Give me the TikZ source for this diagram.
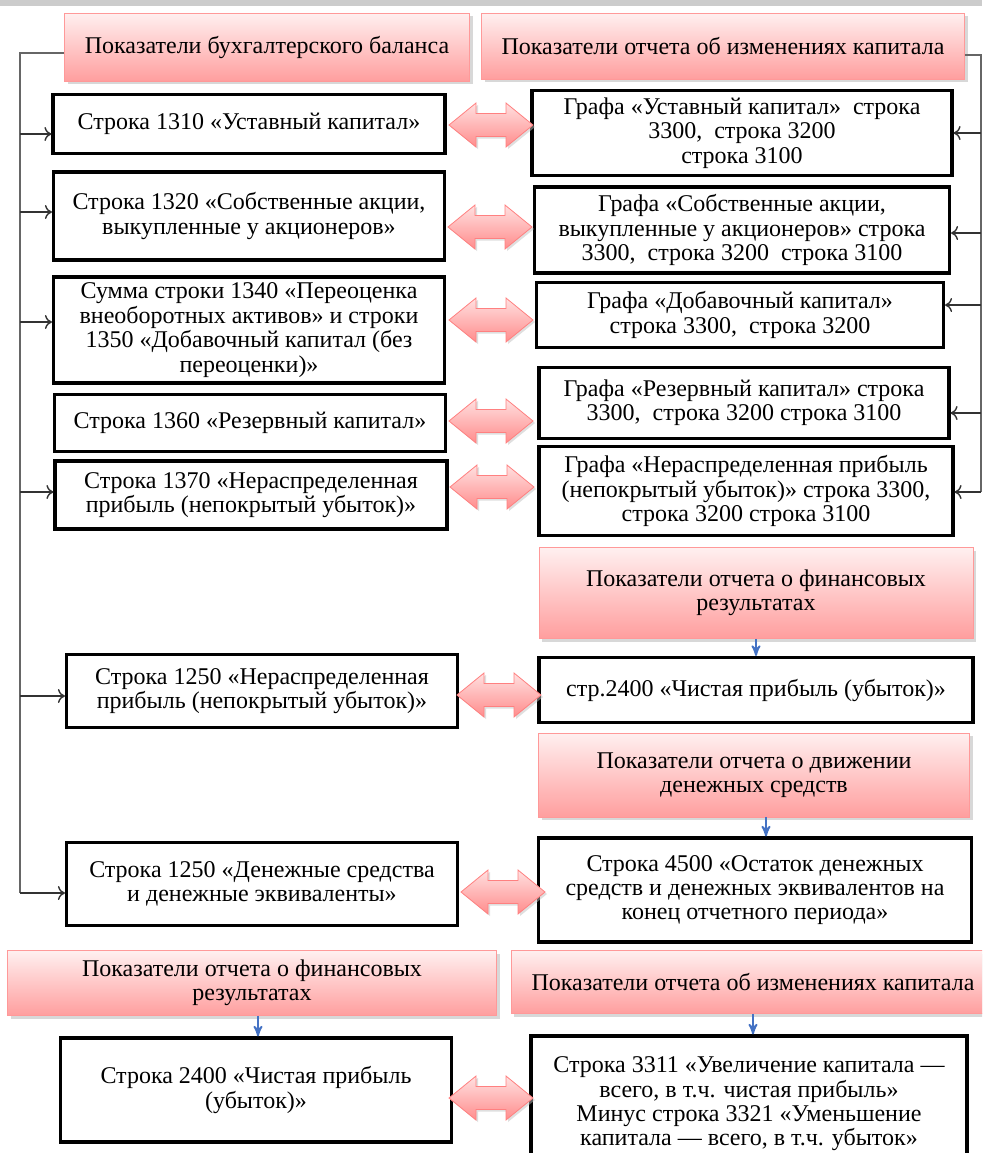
\documentclass[tikz,border=0pt]{standalone}
\usepackage{fontspec}
\setmainfont{Liberation Serif}
\usepackage{tikz}
\usetikzlibrary{shadows}
\usetikzlibrary{arrows}
\usetikzlibrary{arrows.meta}
\definecolor{linkblue}{RGB}{68,114,196}

\tikzset{link/.pic={
	\path[draw=red!50,top color=red!12,bottom color=red!45,
		drop shadow={shadow xshift=1pt,shadow yshift=-1pt,fill=black!25}]
		(-42,0) -- (-15,-22) -- (-15,-11.5) -- (15,-11.5) -- (15,-22) -- (42,0)
		-- (15,22) -- (15,11.5) -- (-15,11.5) -- (-15,22) -- cycle;
}}

\begin{document}
\begin{tikzpicture}[x=0.5pt,y=-0.5pt,>={To[length=3.5pt,width=7pt]},
	every node/.style={font=\fontsize{12}{12.2}\selectfont},
	main node/.style={rectangle,draw,line width=1.6pt,fill=white,align=center,inner sep=1pt},
	pink node/.style={rectangle,draw=red!40,top color=red!6,bottom color=red!38,
		drop shadow={shadow xshift=1.5pt,shadow yshift=-1.5pt,fill=black!30},
		align=center,inner sep=1pt},
	feed/.style={->,line width=0.7pt,black!80},
	down/.style={-stealth',line width=0.9pt,linkblue}]

	\useasboundingbox (0,0) rectangle (982,1153);
	\clip (0,0) rectangle (982,1153);
	\fill[black!20] (0,0) rectangle (982,6);

	% headers
	\node[pink node,minimum width=202.5pt,minimum height=34pt] (h1) at (267,47) {Показатели бухгалтерского баланса};
	\node[pink node,minimum width=241.5pt,minimum height=33pt] (h2) at (723,46) {Показатели отчета об изменениях капитала};

	% balance sheet
	\node[main node,minimum width=196pt,minimum height=29.5pt] (l1) at (249,124) {Строка 1310 «Уставный капитал»};
	\node[main node,minimum width=195.5pt,minimum height=44pt] (l2) at (249,216) {Строка 1320 «Собственные акции,\\выкупленные у акционеров»};
	\node[main node,minimum width=195.5pt,minimum height=53pt] (l3) at (249,330) {Сумма строки 1340 «Переоценка\\внеоборотных активов» и строки\\1350 «Добавочный капитал (без\\переоценки)»};
	\node[main node,minimum width=195.5pt,minimum height=28.5pt] (l4) at (250,423) {Строка 1360 «Резервный капитал»};
	\node[main node,minimum width=196pt,minimum height=34pt] (l5) at (251,495) {Строка 1370 «Нераспределенная\\прибыль (непокрытый убыток)»};
	\node[main node,minimum width=195.5pt,minimum height=36.5pt] (l6) at (262,691) {Строка 1250 «Нераспределенная\\прибыль (непокрытый убыток)»};
	\node[main node,minimum width=195.5pt,minimum height=41.5pt] (l7) at (262,884) {Строка 1250 «Денежные средства\\и денежные эквиваленты»};

	% changes in equity
	\node[main node,minimum width=210pt,minimum height=42.5pt] (r1) at (742,133) {Графа «Уставный капитал»\ \ строка\\3300,\ \ строка 3200\\строка 3100};
	\node[main node,minimum width=207.5pt,minimum height=43pt] (r2) at (742,230) {Графа «Собственные акции,\\выкупленные у акционеров» строка\\3300,\ \ строка 3200\ \ строка 3100};
	\node[main node,minimum width=203.5pt,minimum height=32.5pt] (r3) at (740,315) {Графа «Добавочный капитал»\\строка 3300,\ \ строка 3200};
	\node[main node,minimum width=205pt,minimum height=35.5pt] (r4) at (744,403) {Графа «Резервный капитал» строка\\3300,\ \ строка 3200 строка 3100};
	\node[main node,minimum width=207pt,minimum height=44.5pt] (r5) at (746,491) {Графа «Нераспределенная прибыль\\(непокрытый убыток)» строка 3300,\\строка 3200 строка 3100};

	% financial results and cash flow
	\node[pink node,minimum width=217pt,minimum height=45.5pt] (h3) at (756,593) {Показатели отчета о финансовых\\результатах};
	\node[main node,minimum width=217pt,minimum height=32.5pt] (r6) at (756,690) {стр.2400 «Чистая прибыль (убыток)»};
	\node[pink node,minimum width=215.5pt,minimum height=42pt] (h4) at (754,775) {Показатели отчета о движении\\денежных средств};
	\node[main node,minimum width=216.5pt,minimum height=52pt] (r7) at (755,890) {Строка 4500 «Остаток денежных\\средств и денежных эквивалентов на\\конец отчетного периода»};

	% bottom pair
	\node[pink node,minimum width=244.5pt,minimum height=32.5pt] (h5) at (252,983) {Показатели отчета о финансовых\\результатах};
	\node[pink node,minimum width=242pt,minimum height=31.5pt] (h6) at (753,982) {Показатели отчета об изменениях капитала};
	\node[main node,minimum width=195.5pt,minimum height=52pt] (l8) at (256,1090) {Строка 2400 «Чистая прибыль\\(убыток)»};
	\node[main node,minimum width=218pt,minimum height=68pt] (r8) at (749,1104) {Строка 3311 «Увеличение капитала —\\всего, в т.ч. чистая прибыль»\\Минус строка 3321 «Уменьшение\\капитала — всего, в т.ч. убыток»};

	% two-way links
	\pic (a1) at (491,125) {link};
	\pic (a2) at (490,227) {link};
	\pic (a3) at (491,320) {link};
	\pic (a4) at (491,421) {link};
	\pic (a5) at (492,487) {link};
	\pic (a6) at (499,695) {link};
	\pic (a7) at (503,892) {link};
	\pic (a8) at (491,1098) {link};

	% left bus
	\coordinate (lb) at (20,53);
	\draw[line width=0.7pt,black!60] (h1.west |- lb) -- (lb) -- (20,893);
	\foreach \n/\y in {l1/134,l2/212,l3/322,l5/492,l6/696,l7/893}
		\draw[feed] (20,\y) -- (\n.west |- 0,\y);

	% right bus
	\coordinate (rb) at (981,55);
	\draw[line width=0.7pt,black!60] (h2.east |- rb) -- (rb) -- (981,492);
	\foreach \n/\y in {r1/133,r2/233,r3/305,r4/413,r5/492}
		\draw[feed] (981,\y) -- (\n.east |- 0,\y);

	% header feeds
	\draw[down] (h3.south) -- (r6.north);
	\draw[down] ([xshift=6pt]h4.south) -- ([xshift=6pt]h4.south |- r7.north);
	\draw[down] ([xshift=3pt]h5.south) -- ([xshift=3pt]h5.south |- l8.north);
	\draw[down] (h6.south) -- (h6.south |- r8.north);
\end{tikzpicture}
\end{document}
